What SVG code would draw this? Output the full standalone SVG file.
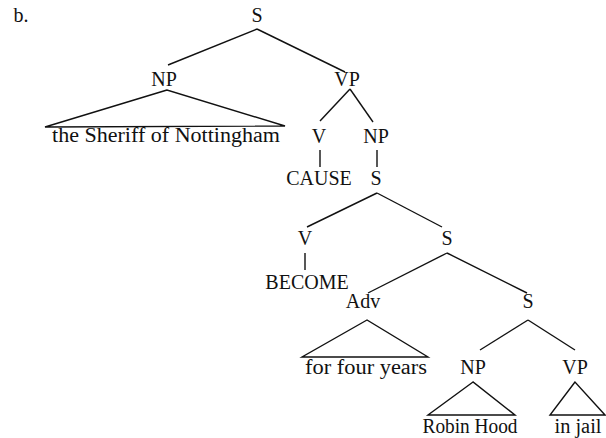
<svg xmlns="http://www.w3.org/2000/svg" width="606" height="438" viewBox="0 0 606 438">
<style>
text{font-family:"Liberation Serif","DejaVu Serif",serif;font-size:20px;fill:#111;text-anchor:middle}
.e line,.e polygon{stroke:#111;stroke-width:1.4;fill:none}
</style>
<rect width="606" height="438" fill="#fff"/>
<g id="label"><text x="21" y="22" font-size="18">b.</text></g>
<g class="e" id="connectors">
<line x1="257" y1="29" x2="168" y2="65"/>
<line x1="257" y1="29" x2="345" y2="72"/>
<polygon points="167,90 45,127 285,126"/>
<line x1="350" y1="89" x2="320" y2="121"/>
<line x1="350" y1="89" x2="373" y2="122"/>
<line x1="320" y1="150" x2="320" y2="167"/>
<line x1="377" y1="150" x2="377" y2="167"/>
<line x1="377" y1="193" x2="307" y2="227"/>
<line x1="377" y1="193" x2="442" y2="227"/>
<line x1="305" y1="253" x2="305" y2="270"/>
<line x1="447" y1="253" x2="368" y2="293"/>
<line x1="447" y1="253" x2="527" y2="293"/>
<polygon points="367,320 302,357 428,357"/>
<line x1="528" y1="320" x2="480" y2="350"/>
<line x1="528" y1="320" x2="575" y2="350"/>
<polygon points="473,382 428,415 515,415"/>
<polygon points="575,382 550,415 605,415"/>
</g>
<g id="n-S"><text x="257" y="22">S</text></g>
<g id="n-NP1"><text x="164" y="86">NP</text></g>
<g id="n-VP1"><text x="347" y="86">VP</text></g>
<g id="n-sheriff"><text x="166" y="142" textLength="228" lengthAdjust="spacingAndGlyphs">the Sheriff of Nottingham</text></g>
<g id="n-V1"><text x="319" y="143">V</text></g>
<g id="n-NP2"><text x="376" y="143">NP</text></g>
<g id="n-CAUSE"><text x="319" y="185">CAUSE</text></g>
<g id="n-S2"><text x="376" y="185">S</text></g>
<g id="n-V2"><text x="305" y="245">V</text></g>
<g id="n-S3"><text x="447" y="245">S</text></g>
<g id="n-BECOME"><text x="307" y="289">BECOME</text></g>
<g id="n-Adv"><text x="363" y="308">Adv</text></g>
<g id="n-S4"><text x="528" y="308">S</text></g>
<g id="n-years"><text x="366" y="374" textLength="122" lengthAdjust="spacingAndGlyphs">for four years</text></g>
<g id="n-NP3"><text x="473" y="374">NP</text></g>
<g id="n-VP2"><text x="575" y="374">VP</text></g>
<g id="n-robin"><text x="470" y="433" textLength="95" lengthAdjust="spacingAndGlyphs">Robin Hood</text></g>
<g id="n-jail"><text x="578" y="433" textLength="47" lengthAdjust="spacingAndGlyphs">in jail</text></g>
</svg>
